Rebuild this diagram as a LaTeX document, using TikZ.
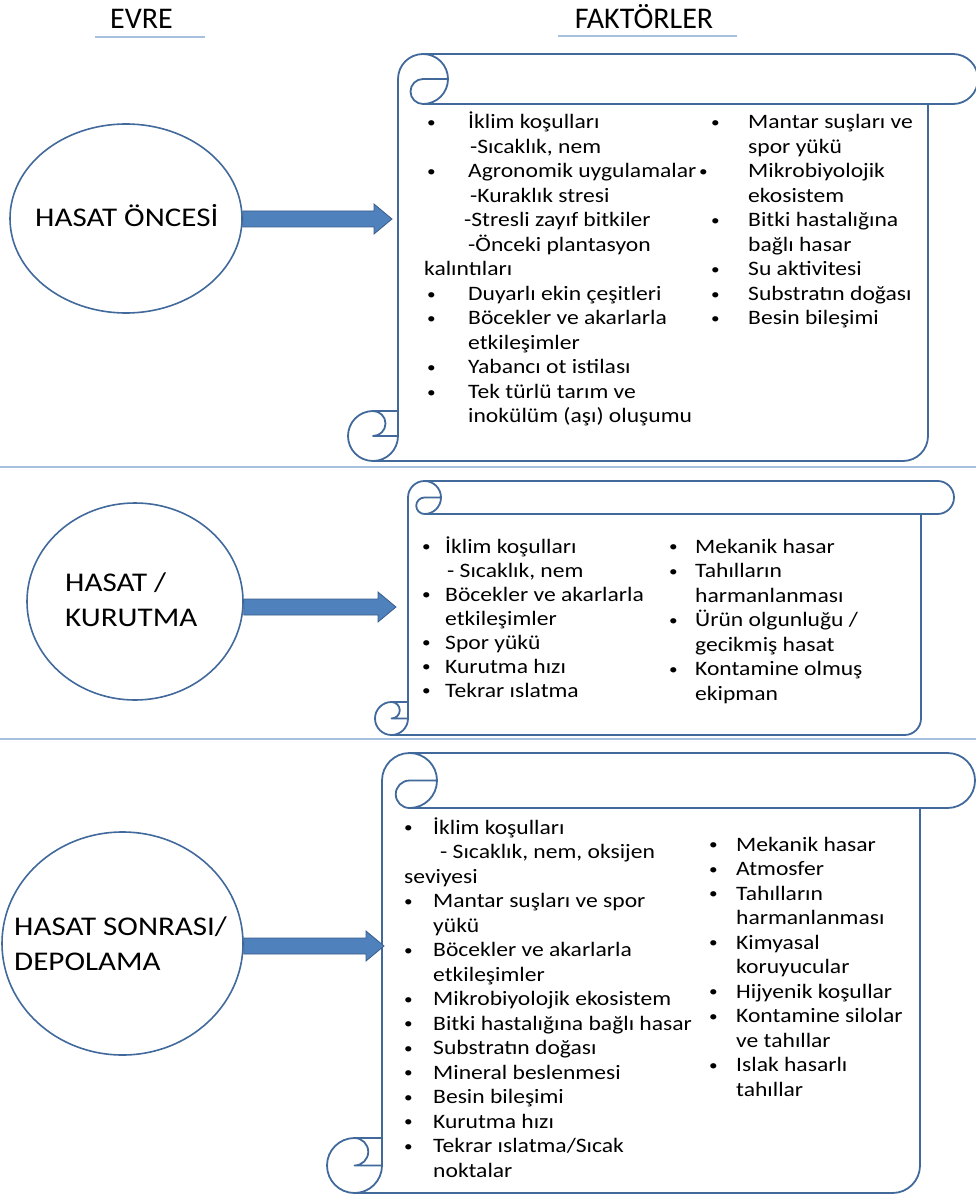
\documentclass[tikz,border=0pt]{standalone}
\usepackage{fontspec}
\setmainfont{Carlito}
\newfontfamily\wideface{Carlito}[FakeStretch=1.15]
\usetikzlibrary{shapes.geometric}
\usetikzlibrary{calc}

\definecolor{edgeblue}{RGB}{65,105,155}
\definecolor{arrowfill}{RGB}{79,129,189}
\definecolor{arrowedge}{RGB}{56,93,138}
\definecolor{rulecol}{RGB}{168,192,224}

\newcommand{\bul}{\raisebox{1.2pt}{\fontsize{15}{15}\selectfont\textbullet}}

% scroll: left, top, right, bottom, roll size
\newcommand{\drawscroll}[5]{%
  \draw[scrollline,fill=white] ({#1+#5},{#4-#5}) -- ({#1+#5},{#2+#5/2})
    arc[start angle=180,delta angle=90,radius=#5/2] -- ({#3-#5/2},#2)
    arc[start angle=270,delta angle=180,radius=#5/2] -- ({#3-#5},{#2+#5})
    -- ({#3-#5},{#4-#5/2})
    arc[start angle=0,delta angle=90,radius=#5/2] -- ({#1+#5/2},#4)
    arc[start angle=90,delta angle=180,radius=#5/2] -- cycle;
  \draw[scrollline] ({#1+1.5*#5},#2)
    arc[start angle=270,delta angle=180,radius=#5/2]
    arc[start angle=90,delta angle=180,radius=#5/4] -- ({#1+2*#5},{#2+#5/2});
  \draw[scrollline] ({#3-#5},{#2+#5}) -- ({#1+1.5*#5},{#2+#5});
  \draw[scrollline] ({#1+#5/2},{#4-#5})
    arc[start angle=270,delta angle=180,radius=#5/4] -- ({#1+#5},{#4-#5/2});
  \draw[scrollline] ({#1+#5/2},#4)
    arc[start angle=90,delta angle=-90,radius=#5/2] -- ({#1+#5},{#4-#5});
}

\begin{document}
\begin{tikzpicture}[x=1pt,y=-1pt,
    scrollline/.style={draw=edgeblue,line width=1.8pt,line join=round},
    phase/.style={ellipse,draw=edgeblue,line width=1.6pt,inner sep=0pt},
    phasetext/.style={inner sep=0pt,align=left,font=\wideface\fontsize{27}{35}\selectfont},
    factors/.style={anchor=base west,inner sep=0pt,font=\wideface\fontsize{20.5}{24.5}\selectfont},
    header/.style={anchor=base,inner sep=0pt,font=\fontsize{30}{36}\selectfont},
    blockarrow/.style={fill=arrowfill,draw=arrowedge,line width=0.8pt,line join=miter},
    rule/.style={draw=rulecol,line width=1.5pt}]

  \useasboundingbox (0,0) rectangle (976,1198);

  % headers
  \node[header] (hevre) at (141.5,29) {EVRE};
  \node[header] (hfak)  at (644,29)   {FAKTÖRLER};
  \draw[rule,line width=2pt] (95,37) -- (205,37);
  \draw[rule,line width=2pt] (558,36) -- (737,36);

  % separators
  \draw[rule] (0,467) -- (976,467);
  \draw[rule] (0,739) -- (976,739);

  % scrolls
  \drawscroll{348}{54}{978}{461}{50}
  \drawscroll{375}{481}{954}{735}{33}
  \drawscroll{327}{753}{975}{1193}{55}

  % phases
  \node[phase,minimum width=232pt,minimum height=189pt] (e1) at (126,218.5) {};
  \node[phase,minimum width=216pt,minimum height=197pt] (e2) at (135,601.5) {};
  \node[phase,minimum width=241pt,minimum height=223pt] (e3) at (122.5,943.5) {};
  \node[phasetext,anchor=base west] (t1) at (35,227) {HASAT ÖNCESİ};
  \node[phasetext,anchor=west] (t2) at (65,600) {HASAT /\\KURUTMA};
  \node[phasetext,anchor=west] (t3) at (14,944) {HASAT SONRASI/\\DEPOLAMA};

  \coordinate (a1) at (392,219);
  \coordinate (a2) at (396,607);
  \coordinate (a3) at (384,946);
  \foreach \e/\a in {e1/a1,e2/a2,e3/a3}
    \draw[blockarrow] ($(\e.east |- \a)+(0,-8)$) -- ($(\a)+(-18,-8)$)
      -- ($(\a)+(-18,-15)$) -- (\a) -- ($(\a)+(-18,15)$)
      -- ($(\a)+(-18,8)$) -- ($(\e.east |- \a)+(0,8)$) -- cycle;

  % factors, pre-harvest
  \node[factors] (f1l) at (427,129) {\begin{tabular}[t]{@{}p{41pt}@{}l@{}}
    \bul & İklim koşulları\\
    & \hspace*{2pt}-Sıcaklık, nem\\
    \bul & Agronomik uygulamalar\\
    & \hspace*{2pt}-Kuraklık stresi\\
    & \hspace*{-4pt}-Stresli zayıf bitkiler\\
    & -Önceki plantasyon\\
    \multicolumn{2}{@{}l@{}}{\hspace*{-3pt}kalıntıları}\\
    \bul & Duyarlı ekin çeşitleri\\
    \bul & Böcekler ve akarlarla\\
    & etkileşimler\\
    \bul & Yabancı ot istilası\\
    \bul & Tek türlü tarım ve\\
    & inokülüm (aşı) oluşumu
  \end{tabular}};
  \node[factors] (f1r) at (711,129) {\begin{tabular}[t]{@{}p{37pt}@{}l@{}}
    \bul & Mantar suşları ve\\
    & spor yükü\\
    \hspace*{-12pt}\bul & Mikrobiyolojik\\
    & ekosistem\\
    \bul & Bitki hastalığına\\
    & bağlı hasar\\
    \bul & Su aktivitesi\\
    \bul & Substratın doğası\\
    \bul & Besin bileşimi
  \end{tabular}};

  % factors, harvest / drying
  \node[factors] (f2l) at (422,553) {\renewcommand{\arraystretch}{0.98}%
    \begin{tabular}[t]{@{}p{23pt}@{}l@{}}
    \bul & İklim koşulları\\
    & \hspace*{2pt}- Sıcaklık, nem\\
    \bul & Böcekler ve akarlarla\\
    & etkileşimler\\
    \bul & Spor yükü\\
    \bul & Kurutma hızı\\
    \bul & Tekrar ıslatma
  \end{tabular}};
  \node[factors] (f2r) at (669,553) {\begin{tabular}[t]{@{}p{26pt}@{}l@{}}
    \bul & Mekanik hasar\\
    \bul & Tahılların\\
    & harmanlanması\\
    \bul & Ürün olgunluğu /\\
    & gecikmiş hasat\\
    \bul & Kontamine olmuş\\
    & ekipman
  \end{tabular}};

  % factors, post-harvest / storage
  \node[factors] (f3l) at (404,834) {\begin{tabular}[t]{@{}p{29pt}@{}l@{}}
    \bul & İklim koşulları\\
    & \hspace*{7pt}- Sıcaklık, nem, oksijen\\
    \multicolumn{2}{@{}l@{}}{\hspace*{0pt}seviyesi}\\
    \bul & Mantar suşları ve spor\\
    & yükü\\
    \bul & Böcekler ve akarlarla\\
    & etkileşimler\\
    \bul & Mikrobiyolojik ekosistem\\
    \bul & Bitki hastalığına bağlı hasar\\
    \bul & Substratın doğası\\
    \bul & Mineral beslenmesi\\
    \bul & Besin bileşimi\\
    \bul & Kurutma hızı\\
    \bul & Tekrar ıslatma/Sıcak\\
    & noktalar
  \end{tabular}};
  \node[factors] (f3r) at (709,851) {\begin{tabular}[t]{@{}p{27pt}@{}l@{}}
    \bul & Mekanik hasar\\
    \bul & Atmosfer\\
    \bul & Tahılların\\
    & harmanlanması\\
    \bul & Kimyasal\\
    & koruyucular\\
    \bul & Hijyenik koşullar\\
    \bul & Kontamine silolar\\
    & ve tahıllar\\
    \bul & Islak hasarlı\\
    & tahıllar
  \end{tabular}};
\end{tikzpicture}
\end{document}
